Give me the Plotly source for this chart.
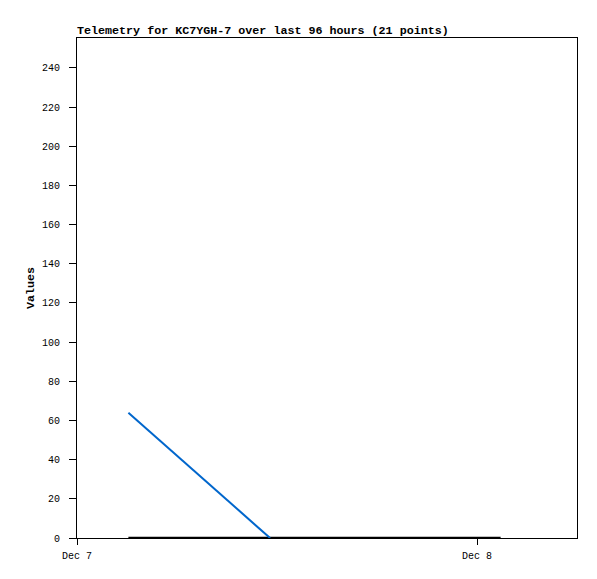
import plotly.graph_objects as go

# Data
blue_times = ["2023-12-07 03:05", "2023-12-07 11:35"]
blue_values = [64, 0]
black_times = ["2023-12-07 03:05", "2023-12-07 11:35", "2023-12-08 01:25"]
black_values = [0, 0, 0]

x_range = ["2023-12-07 00:00", "2023-12-08 06:00"]
y_range = [0, 255.3]
y_ticks = list(range(0, 241, 20))
x_tickvals = ["2023-12-07", "2023-12-08"]
x_ticktext = ["Dec 7", "Dec 8"]

W, H = 589, 571

fig = go.Figure()
fig.add_trace(go.Scatter(x=black_times, y=black_values, mode="lines",
                         line=dict(color="#000000", width=2.5), showlegend=False))
fig.add_trace(go.Scatter(x=blue_times, y=blue_values, mode="lines",
                         line=dict(color="#0066cc", width=2), showlegend=False))

font_mono = "Liberation Mono, DejaVu Sans Mono, monospace"
fig.update_layout(
    width=W, height=H,
    margin=dict(l=69, r=20, t=30, b=41),
    paper_bgcolor="white", plot_bgcolor="white",
    title=dict(text="<b>Telemetry for KC7YGH-7 over last 96 hours (21 points)</b>",
               x=69/W, xanchor="left", y=1-22/H, yanchor="middle",
               font=dict(family=font_mono, size=11.7, color="black")),
    font=dict(family=font_mono, size=10, color="black"),
    xaxis=dict(range=x_range, type="date", tickvals=x_tickvals, ticktext=x_ticktext,
               ticks="outside", ticklen=6, tickcolor="black", ticklabelstandoff=2,
               showline=True, linecolor="black", linewidth=1, mirror=True,
               showgrid=False, zeroline=False),
    yaxis=dict(range=y_range, tickvals=y_ticks, ticks="outside", ticklen=7,
               tickcolor="black", showline=True, linecolor="black", linewidth=1,
               mirror=True, showgrid=False, zeroline=False, ticklabelstandoff=7,
               title=dict(text="<b>Values</b>", font=dict(family=font_mono, size=11.7), standoff=4)),
)
fig.write_html("out.html")
